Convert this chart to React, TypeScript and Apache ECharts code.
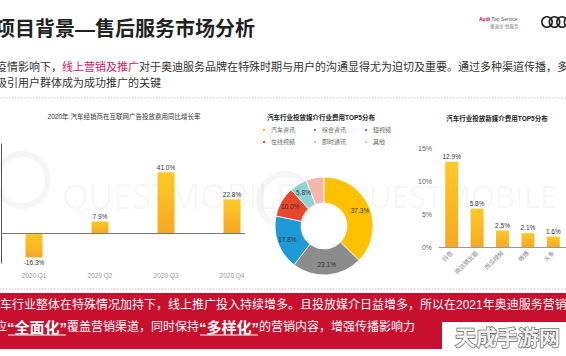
import React, { useEffect, useRef } from 'react';
import * as echarts from 'echarts';

const FONT = '"Liberation Sans","Noto Sans CJK SC",sans-serif';

// Chart 1: 2020年 汽车经销商在互联网广告投放费用同比增长率
const growthCats = ['2020 Q1', '2020 Q2', '2020 Q3', '2020 Q4'];
const growthVals = [-16.3, 7.9, 41.0, 22.8];

// Chart 2: 汽车行业投放媒介行业费用TOP5分布
const mediaNames = ['汽车资讯', '综合资讯', '短视频', '在线视频', '即时通讯', '其他'];
const mediaShares = [37.3, 23.1, 17.8, 10.0, 5.8, 5.9];
const mediaColors = ['#FFC000', '#8C8C8C', '#1E9AD6', '#E9472C', '#8FD3D6', '#F5B7AC'];

// Chart 3: 汽车行业投放新媒介费用TOP5分布
const newMediaCats = ['抖音', '微信朋友圈', '西瓜视频', '微博', '头条'];
const newMediaVals = [12.9, 5.8, 2.5, 2.1, 1.6];

const titleText = '项目背景—售后服务市场分析';
const introLine1a = '疫情影响下，';
const introLine1b = '线上营销及推广';
const introLine1c = '对于奥迪服务品牌在特殊时期与用户的沟通显得尤为迫切及重要。通过多种渠道传播，多样';
const introLine2 = '吸引用户群体成为成功推广的关键';
const bandLine1 = '车行业整体在特殊情况加持下，线上推广投入持续增多。且投放媒介日益增多，所以在2021年奥迪服务营销';
const bandLine2Parts: [string, boolean][] = [
  ['应', false],
  ['“全面化”', true],
  ['覆盖营销渠道，同时保持', false],
  ['“多样化”', true],
  ['的营销内容，增强传播影响力', false],
];

function measure(text: string, font: string): number {
  const c = document.createElement('canvas').getContext('2d');
  if (!c) return text.length * 12;
  c.font = font;
  return c.measureText(text).width;
}

const barGradient = () =>
  new echarts.graphic.LinearGradient(0, 0, 0, 1, [
    { offset: 0, color: '#FFC926' },
    { offset: 1, color: '#F7A823' },
  ]);

function txt(x: number, y: number, text: string, s: any, extra: any = {}) {
  return {
    type: 'text',
    x,
    y,
    ...extra,
    style: {
      text,
      fontFamily: FONT,
      textAlign: s.align || 'left',
      align: s.align || 'left',
      textVerticalAlign: 'middle',
      verticalAlign: 'middle',
      ...s,
    },
  };
}

export default function App() {
  const ref = useRef<HTMLDivElement>(null);
  useEffect(() => {
    const chart = echarts.init(ref.current!, null, { renderer: 'svg' });

    // bottom band line 2 layout
    const line2: any[] = [];
    let cx = -5;
    const y2 = 327;
    bandLine2Parts.forEach(([t, bold]) => {
      const size = bold ? 15 : 12;
      const weight = bold ? 'bold' : 'normal';
      const w = measure(t, `${weight} ${size}px ${FONT}`);
      line2.push(txt(cx, y2, t, { fill: '#fff', fontSize: size, fontWeight: weight }, { z: 5 }));
      if (bold) {
        line2.push({
          type: 'line',
          z: 5,
          shape: { x1: cx + 1, y1: y2 + 8, x2: cx + w - 1, y2: y2 + 8 },
          style: { stroke: '#fff', lineWidth: 1.2 },
        });
      }
      cx += w;
    });

    const option: any = {
      animation: false,
      backgroundColor: '#fff',
      textStyle: { fontFamily: FONT },
      grid: [
        { left: 1, top: 144, width: 264, height: 119 },
        { left: 439, top: 148, width: 130, height: 99 },
      ],
      xAxis: [
        {
          gridIndex: 0,
          type: 'category',
          data: growthCats,
          axisLine: { show: false, onZero: false },
          axisTick: { show: false },
          axisLabel: { fontSize: 6.5, color: '#999', margin: 9 },
        },
        {
          gridIndex: 1,
          type: 'category',
          data: newMediaCats,
          axisLine: { lineStyle: { color: '#999' } },
          axisTick: { show: false },
          axisLabel: { interval: 0, rotate: 45, fontSize: 6, color: '#888', margin: 5 },
        },
      ],
      yAxis: [
        {
          gridIndex: 0,
          type: 'value',
          min: -20,
          max: 60,
          axisLine: { show: true, lineStyle: { color: '#555' } },
          axisLabel: { show: false },
          axisTick: { show: false },
          splitLine: { show: false },
        },
        {
          gridIndex: 1,
          type: 'value',
          min: 0,
          max: 15,
          interval: 5,
          axisLine: { show: false },
          axisTick: { show: false },
          splitLine: { show: false },
          axisLabel: { formatter: '{value}%', fontSize: 7, color: '#666', margin: 7 },
        },
      ],
      legend: [
        {
          data: mediaNames.slice(0, 3),
          left: 261,
          top: 127,
          padding: 0,
          icon: 'rect',
          itemWidth: 4,
          itemHeight: 4,
          itemGap: 17,
          textStyle: { fontSize: 6, color: '#666', fontFamily: FONT },
        },
        {
          data: mediaNames.slice(3),
          left: 261,
          top: 139,
          padding: 0,
          icon: 'rect',
          itemWidth: 4,
          itemHeight: 4,
          itemGap: 17,
          textStyle: { fontSize: 6, color: '#666', fontFamily: FONT },
        },
      ],
      series: [
        {
          type: 'bar',
          xAxisIndex: 0,
          yAxisIndex: 0,
          barWidth: 17,
          data: growthVals.map((v) => ({
            value: v,
            label: { position: v < 0 ? 'bottom' : 'top' },
          })),
          itemStyle: { color: barGradient() },
          label: {
            show: true,
            distance: 2,
            fontSize: 6.5,
            color: '#333',
            formatter: (p: any) => Number(p.value).toFixed(1) + '%',
          },
          markLine: {
            silent: true,
            symbol: 'none',
            label: { show: false },
            lineStyle: { color: '#777', width: 1, type: 'solid' },
            data: [[{ x: 1, yAxis: 0 }, { x: 245, yAxis: 0 }]],
          },
        },
        {
          type: 'pie',
          center: [324, 226],
          radius: [23, 49],
          startAngle: 90,
          clockwise: true,
          itemStyle: { borderColor: '#fff', borderWidth: 0.8 },
          label: {
            show: true,
            position: 'inside',
            fontSize: 6.5,
            color: '#333',
            formatter: (p: any) => Number(p.value).toFixed(1) + '%',
          },
          labelLine: { show: false },
          data: mediaNames.map((n, i) => ({
            name: n,
            value: mediaShares[i],
            itemStyle: { color: mediaColors[i] },
          })),
        },
        {
          type: 'bar',
          xAxisIndex: 1,
          yAxisIndex: 1,
          barWidth: 13,
          data: newMediaVals,
          itemStyle: { color: barGradient() },
          label: {
            show: true,
            position: 'top',
            distance: 2,
            fontSize: 6.5,
            color: '#333',
            formatter: (p: any) => Number(p.value).toFixed(1) + '%',
          },
        },
      ],
      graphic: [
        // faint QuestMobile watermarks
        txt(62, 196, 'QUESTMOBILE', { fill: 'rgba(0,0,0,0.045)', fontSize: 34, fontFamily: '"Open Sans",sans-serif' }, { z: -10, silent: true }),
        txt(345, 196, 'QUESTMOBILE', { fill: 'rgba(0,0,0,0.045)', fontSize: 31, fontFamily: '"Open Sans",sans-serif' }, { z: -10, silent: true }),
        { type: 'circle', z: -10, silent: true, shape: { cx: 22, cy: 180, r: 26 }, style: { fill: 'none', stroke: 'rgba(0,0,0,0.04)', lineWidth: 6 } },
        { type: 'circle', z: -10, silent: true, shape: { cx: 285, cy: 200, r: 26 }, style: { fill: 'none', stroke: 'rgba(0,0,0,0.035)', lineWidth: 6 } },

        // header
        txt(-5, 29, titleText, { fill: '#222', fontSize: 20, fontWeight: 'bold' }),
        {
          type: 'text',
          x: 479,
          y: 19,
          style: {
            text: '{r|Audi} Top Service',
            fontFamily: FONT,
            fontSize: 5,
            fill: '#555',
            verticalAlign: 'middle',
            textVerticalAlign: 'middle',
            rich: { r: { fill: '#CC0033', fontSize: 5, fontWeight: 'bold', fontFamily: FONT } },
          },
        },
        txt(490, 26, '奥迪卓·悦服务', { fill: '#777', fontSize: 4.5 }),
        ...[547, 554.5, 562, 569.5].map((c) => ({
          type: 'circle',
          shape: { cx: c, cy: 22, r: 5.2 },
          style: { fill: 'none', stroke: '#222', lineWidth: 1.6 },
        })),

        // intro text
        {
          type: 'text',
          x: -4,
          y: 67,
          style: {
            text: introLine1a + '{r|' + introLine1b + '}' + introLine1c,
            fontFamily: FONT,
            fontSize: 11,
            fill: '#333',
            verticalAlign: 'middle',
            textVerticalAlign: 'middle',
            rich: { r: { fill: '#D6135E', fontSize: 11, fontFamily: FONT } },
          },
        },
        txt(-4, 83, introLine2, { fill: '#333', fontSize: 11 }),
        {
          type: 'line',
          shape: { x1: 0, y1: 98, x2: 566, y2: 98 },
          style: { stroke: '#c8c8c8', lineWidth: 1, lineDash: [1.5, 1.5] },
        },

        // chart titles
        txt(124, 116, '2020年 汽车经销商在互联网广告投放费用同比增长率', { fill: '#333', fontSize: 6.5, align: 'center' }),
        txt(321, 117, '汽车行业投放媒介行业费用TOP5分布', { fill: '#222', fontSize: 6.5, fontWeight: 'bold', align: 'center' }),
        txt(497, 118, '汽车行业投放新媒介费用TOP5分布', { fill: '#222', fontSize: 6.5, fontWeight: 'bold', align: 'center' }),

        // bottom band
        {
          type: 'line',
          shape: { x1: 0, y1: 289, x2: 566, y2: 289 },
          style: { stroke: '#d9b0b8', lineWidth: 1, lineDash: [1.5, 1.5] },
        },
        { type: 'rect', z: 1, shape: { x: 0, y: 293, width: 566, height: 56 }, style: { fill: '#C8102E' } },
        txt(0, 305, bandLine1, { fill: '#fff', fontSize: 12 }, { z: 5 }),
        ...line2,
        { type: 'rect', z: 6, shape: { x: 442, y: 322, width: 124, height: 34 }, style: { fill: '#fff' } },
        txt(455, 337, '天成手游网', { fill: '#f2f2f2', stroke: '#6a6a6a', lineWidth: 1.4, fontSize: 21, fontWeight: 'bold' }, { z: 7 }),
      ],
    };
    chart.setOption(option);
    return () => chart.dispose();
  }, []);
  return (
    <div
      ref={ref}
      style={{ position: 'absolute', left: 0, top: 0, width: 566, height: 356, background: '#fff' }}
    />
  );
}
